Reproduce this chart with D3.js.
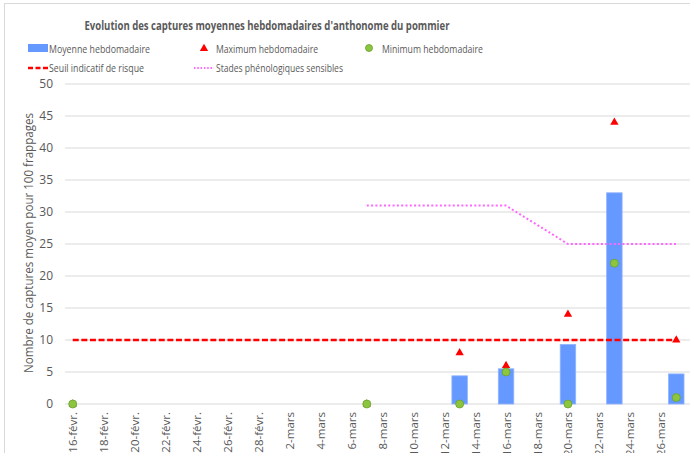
<!DOCTYPE html>
<html><head><meta charset="utf-8">
<script src="https://cdn.jsdelivr.net/npm/d3@7"></script>
<style>
html,body{margin:0;padding:0;background:#fff;overflow:hidden;}
text{font-family:"Open Sans","Liberation Sans",sans-serif;fill:#595959;}
</style></head>
<body>
<svg id="c" width="690" height="453"></svg>
<script>
const dates = ["2023-02-16","2023-03-07","2023-03-13","2023-03-16","2023-03-20","2023-03-23","2023-03-27"];
const meanVals = [0,0,4.4,5.5,9.3,33,4.7];
const maxVals = [0,0,8,6,14,44,10];
const minVals = [0,0,0,5,0,22,1];
const seuilDates = ["2023-02-16","2023-03-27"];
const seuilVals = [10,10];
const stadeDates = ["2023-03-07","2023-03-16","2023-03-20","2023-03-27"];
const stadeVals = [31,31,25,25];
const tickDates = ["2023-02-16","2023-02-18","2023-02-20","2023-02-22","2023-02-24","2023-02-26","2023-02-28","2023-03-02","2023-03-04","2023-03-06","2023-03-08","2023-03-10","2023-03-12","2023-03-14","2023-03-16","2023-03-18","2023-03-20","2023-03-22","2023-03-24","2023-03-26"];
const tickLabels = ["16-févr.","18-févr.","20-févr.","22-févr.","24-févr.","26-févr.","28-févr.","2-mars","4-mars","6-mars","8-mars","10-mars","12-mars","14-mars","16-mars","18-mars","20-mars","22-mars","24-mars","26-mars"];
const yTicks = [0,5,10,15,20,25,30,35,40,45,50];
const title = "Evolution des captures moyennes hebdomadaires d'anthonome du pommier";
const yTitle = "Nombre de captures moyen pour 100 frappages";
const legendNames = ["Moyenne hebdomadaire","Maximum hebdomadaire","Minimum hebdomadaire","Seuil indicatif de risque","Stades phénologiques sensibles"];

const P = d3.utcParse("%Y-%m-%d");
const svg = d3.select("#c");
const x = d3.scaleUtc().domain([new Date(Date.UTC(2023,1,15,12)), new Date(Date.UTC(2023,2,28,12))]).range([65, 699.5]);
const y = d3.scaleLinear().domain([0,50]).range([404,84]);
const dayW = x(P("2023-02-17")) - x(P("2023-02-16"));

// border
svg.append("rect").attr("x",4.5).attr("y",3.5).attr("width",720).attr("height",480)
  .attr("fill","none").attr("stroke","#d9d9d9").attr("stroke-width",1);

// title
svg.append("text").attr("x",267).attr("y",30).attr("text-anchor","middle")
  .style("font-size","13px").style("font-weight","bold")
  .attr("textLength",365).attr("lengthAdjust","spacingAndGlyphs").text(title);

// gridlines
svg.append("g").selectAll("line").data(yTicks).join("line")
  .attr("x1",65).attr("x2",700).attr("y1",d=>y(d)).attr("y2",d=>y(d))
  .attr("stroke","#d9d9d9").attr("stroke-width",1);

// y axis labels
const yAxis = d3.axisLeft(y).tickValues(yTicks).tickSize(0).tickPadding(0);
const gy = svg.append("g").attr("transform","translate(53,0)").call(yAxis);
gy.select(".domain").remove();
gy.selectAll("text").style("font-size","12px").style("fill","#595959")
  .style("font-family","\"Open Sans\",sans-serif");

// y title
svg.append("text").attr("transform","translate(33,243) rotate(-90)")
  .attr("text-anchor","middle").style("font-size","12px")
  .attr("textLength",260).attr("lengthAdjust","spacingAndGlyphs").text(yTitle);

// x axis labels
const xAxis = d3.axisBottom(x).tickValues(tickDates.map(P)).tickSize(0).tickPadding(0)
  .tickFormat((d,i)=>tickLabels[i]);
const gx = svg.append("g").call(xAxis);
gx.select(".domain").remove();
gx.selectAll(".tick text").attr("y",null).attr("dy",null)
  .attr("text-anchor","end")
  .attr("transform","translate(4,412) rotate(-90)")
  .style("font-size","11.5px").style("fill","#595959")
  .style("font-family","\"Open Sans\",sans-serif");

// bars
const data = dates.map((d,i)=>({d:P(d),mean:meanVals[i],max:maxVals[i],min:minVals[i]}));
svg.append("g").selectAll("rect").data(data.filter(d=>d.mean>0)).join("rect")
  .attr("x",d=>x(d.d)-dayW/2).attr("width",dayW)
  .attr("y",d=>y(d.mean)).attr("height",d=>y(0)-y(d.mean))
  .attr("fill","#6699ff").attr("stroke","#8fb3ff").attr("stroke-width",0.8);

// seuil line
const line = d3.line().x(d=>x(d[0])).y(d=>y(d[1]));
svg.append("path").datum(seuilDates.map((d,i)=>[P(d),seuilVals[i]]))
  .attr("d",line).attr("fill","none").attr("stroke","#ff0000").attr("stroke-width",2.5)
  .attr("stroke-dasharray","6,2.6");

// stades line
svg.append("path").datum(stadeDates.map((d,i)=>[P(d),stadeVals[i]]))
  .attr("d",line).attr("fill","none").attr("stroke","#ff66ff").attr("stroke-width",2)
  .attr("stroke-dasharray","2,2.3");

// max triangles
const tri = d3.symbol().type(d3.symbolTriangle).size(30);
svg.append("g").selectAll("path").data(data).join("path")
  .attr("d",tri).attr("transform",d=>`translate(${x(d.d)},${y(d.max)})`)
  .attr("fill","#ff0000");

// min circles
svg.append("g").selectAll("circle").data(data).join("circle")
  .attr("cx",d=>x(d.d)).attr("cy",d=>y(d.min)).attr("r",4)
  .attr("fill","#8cc63f").attr("stroke","#6aa02c").attr("stroke-width",0.8);

// legend
const lg = svg.append("g");
const lfs = "11.5px";
lg.append("rect").attr("x",28).attr("y",44).attr("width",20).attr("height",8).attr("fill","#6699ff");
lg.append("text").attr("x",49).attr("y",52.5).style("font-size",lfs).attr("textLength",101).attr("lengthAdjust","spacingAndGlyphs").text(legendNames[0]);
lg.append("path").attr("d",tri).attr("transform","translate(204,48.5)").attr("fill","#ff0000");
lg.append("text").attr("x",216).attr("y",52.5).style("font-size",lfs).attr("textLength",102).attr("lengthAdjust","spacingAndGlyphs").text(legendNames[1]);
lg.append("circle").attr("cx",369).attr("cy",48).attr("r",3.5).attr("fill","#8cc63f").attr("stroke","#6aa02c").attr("stroke-width",0.8);
lg.append("text").attr("x",382).attr("y",52.5).style("font-size",lfs).attr("textLength",101).attr("lengthAdjust","spacingAndGlyphs").text(legendNames[2]);
lg.append("line").attr("x1",28).attr("x2",48).attr("y1",68).attr("y2",68).attr("stroke","#ff0000").attr("stroke-width",2.5).attr("stroke-dasharray","5,2.5");
lg.append("text").attr("x",49).attr("y",72).style("font-size",lfs).attr("textLength",95).attr("lengthAdjust","spacingAndGlyphs").text(legendNames[3]);
lg.append("line").attr("x1",194).attr("x2",214).attr("y1",68).attr("y2",68).attr("stroke","#ff66ff").attr("stroke-width",2).attr("stroke-dasharray","1.5,1.8");
lg.append("text").attr("x",216).attr("y",72).style("font-size",lfs).attr("textLength",127).attr("lengthAdjust","spacingAndGlyphs").text(legendNames[4]);
</script>
</body></html>
